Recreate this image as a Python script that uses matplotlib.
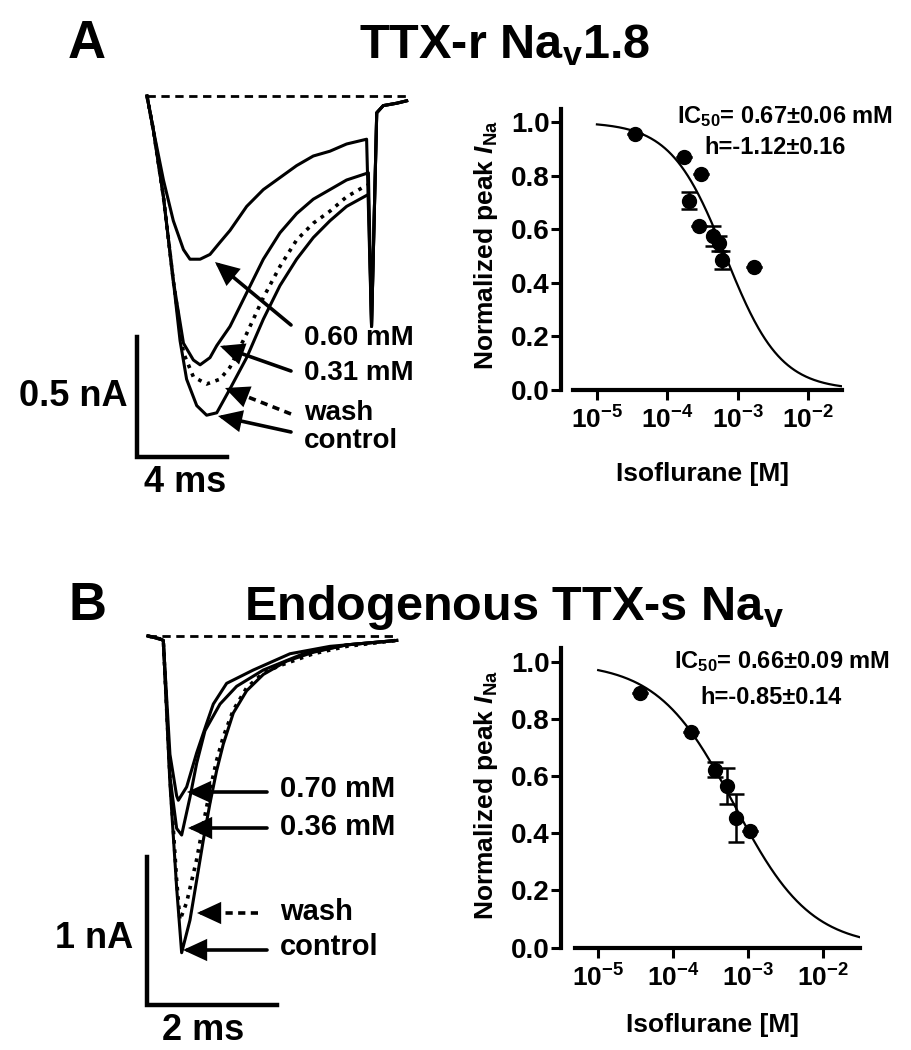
import numpy as np
import matplotlib
matplotlib.use('Agg')
import matplotlib.pyplot as plt
from matplotlib.lines import Line2D
from matplotlib.patches import FancyArrowPatch
from matplotlib.ticker import NullLocator

plt.rcParams['font.family'] = ['Liberation Sans', 'DejaVu Sans']
plt.rcParams['font.weight'] = 'bold'
plt.rcParams['mathtext.fontset'] = 'custom'
plt.rcParams['mathtext.rm'] = 'Liberation Sans:bold'
plt.rcParams['mathtext.bf'] = 'Liberation Sans:bold'
plt.rcParams['mathtext.it'] = 'Liberation Sans:bold:italic'
plt.rcParams['mathtext.default'] = 'rm'

# --- panel A: current traces (time in ms, current in nA) ---
a_ctrl_t = [0, 0.28, 0.73, 1.17, 1.47, 1.76, 2.21, 2.65, 3.10, 3.69, 4.43, 5.17, 5.91,
            6.65, 7.39, 8.13, 8.87, 9.84, 9.98, 10.21, 10.5, 11.1, 11.54]
a_ctrl_i = [0, -0.14, -0.42, -0.77, -1.02, -1.18, -1.29, -1.33, -1.32, -1.22, -1.09, -0.93, -0.79,
            -0.68, -0.59, -0.52, -0.46, -0.41, -0.96, -0.07, -0.04, -0.03, -0.02]
a_wash_t = [0, 0.28, 0.73, 1.17, 1.62, 2.06, 2.65, 3.24, 3.69, 4.43, 5.17, 5.91, 6.65,
            7.39, 8.13, 8.87, 9.61, 9.84]
a_wash_i = [0, -0.14, -0.42, -0.77, -1.07, -1.17, -1.20, -1.18, -1.13, -0.99, -0.84, -0.71, -0.60,
            -0.53, -0.48, -0.42, -0.38, -0.37]
a_031_t = [0, 0.28, 0.73, 1.17, 1.62, 2.06, 2.36, 2.80, 3.10, 3.69, 4.43, 5.17, 5.91,
           6.65, 7.39, 8.13, 8.87, 9.84, 9.98, 10.21, 10.5, 11.1, 11.54]
a_031_i = [0, -0.14, -0.42, -0.77, -1.03, -1.10, -1.12, -1.09, -1.04, -0.96, -0.82, -0.68, -0.57,
           -0.49, -0.43, -0.39, -0.35, -0.32, -0.96, -0.07, -0.04, -0.03, -0.02]
a_060_t = [0, 0.28, 0.73, 1.17, 1.62, 1.91, 2.36, 2.80, 3.24, 3.69, 4.43, 5.17, 5.91,
           6.65, 7.39, 8.13, 8.87, 9.76, 9.98, 10.21, 10.5, 11.1, 11.54]
a_060_i = [0, -0.14, -0.35, -0.52, -0.64, -0.68, -0.68, -0.66, -0.61, -0.56, -0.46, -0.39, -0.34,
           -0.29, -0.25, -0.23, -0.20, -0.18, -0.96, -0.07, -0.04, -0.03, -0.02]
a_end = 11.54

# --- panel B: current traces ---
b_ctrl_t = [0, 0.185, 0.236, 0.338, 0.441, 0.518, 0.646, 0.749, 0.851, 0.954, 1.056, 1.159,
            1.313, 1.518, 1.774, 2.133, 2.544, 3.056, 3.826]
b_ctrl_i = [0, -0.02, -0.03, -1.0, -1.7, -2.14, -1.92, -1.65, -1.38, -1.13, -0.91, -0.73,
            -0.52, -0.37, -0.26, -0.17, -0.11, -0.06, -0.03]
b_wash_t = [0, 0.185, 0.236, 0.338, 0.441, 0.492, 0.595, 0.749, 0.851, 0.954, 1.056, 1.159,
            1.313, 1.518, 1.774, 2.03, 2.544, 3.056, 3.826]
b_wash_i = [0, -0.02, -0.03, -0.95, -1.65, -1.92, -1.80, -1.51, -1.27, -1.04, -0.84, -0.68,
            -0.50, -0.35, -0.25, -0.20, -0.12, -0.07, -0.03]
b_036_t = [0, 0.185, 0.236, 0.338, 0.441, 0.518, 0.646, 0.749, 0.877, 1.108, 1.364, 1.774,
           2.39, 3.056, 3.826]
b_036_i = [0, -0.02, -0.03, -0.95, -1.30, -1.345, -1.09, -0.86, -0.64, -0.46, -0.34, -0.23,
           -0.12, -0.06, -0.03]
b_070_t = [0, 0.185, 0.236, 0.338, 0.441, 0.467, 0.595, 0.749, 0.903, 1.005, 1.21, 1.62,
           2.185, 2.8, 3.826]
b_070_i = [0, -0.02, -0.03, -0.80, -1.08, -1.11, -1.02, -0.79, -0.59, -0.46, -0.32, -0.23,
           -0.12, -0.07, -0.03]
b_end = 3.826

# --- dose-response data (concentration in M) ---
a_conc = [3.47e-5, 1.70e-4, 2.04e-4, 3.02e-4, 2.82e-4, 4.47e-4, 5.37e-4, 6.03e-4, 1.70e-3]
a_resp = [0.954, 0.871, 0.706, 0.806, 0.613, 0.575, 0.547, 0.485, 0.458]
a_err = [0, 0, 0.031, 0, 0, 0.036, 0.028, 0.035, 0]
a_ic50, a_hill = 0.67e-3, 1.12

b_conc = [3.63e-5, 1.76e-4, 3.63e-4, 5.25e-4, 7.0e-4, 1.07e-3]
b_resp = [0.891, 0.756, 0.623, 0.565, 0.454, 0.41]
b_err = [0, 0, 0.026, 0.063, 0.085, 0]
b_ic50, b_hill = 0.66e-3, 0.85

yticks = [0.0, 0.2, 0.4, 0.6, 0.8, 1.0]
ytick_labels = ['0.0', '0.2', '0.4', '0.6', '0.8', '1.0']
xticks = [1e-5, 1e-4, 1e-3, 1e-2]
xtick_labels = [r'$10^{-5}$', r'$10^{-4}$', r'$10^{-3}$', r'$10^{-2}$']

W, H = 911, 1050
fig = plt.figure(figsize=(W / 100, H / 100), dpi=100)


def px_axes(x0, y0, x1, y1):
    return fig.add_axes([x0 / W, 1 - y1 / H, (x1 - x0) / W, (y1 - y0) / H])


def pt(x, y):
    return (x / W, 1 - y / H)


def ftext(x, y, s, **kw):
    fig.text(x / W, 1 - y / H, s, **kw)


def arrow(x0, y0, x1, y1, dashed=False):
    if dashed:
        # dashed shaft, solid head for the last bit
        L = np.hypot(x1 - x0, y1 - y0)
        f = 1 - 16 / L
        xm, ym = x0 + (x1 - x0) * f, y0 + (y1 - y0) * f
        a, b = pt(x0, y0), pt(xm, ym)
        fig.add_artist(Line2D([a[0], b[0]], [a[1], b[1]], transform=fig.transFigure,
                              color='k', lw=2.6, ls=(0, (2, 1.5))))
        x0, y0 = xm, ym
    fig.add_artist(FancyArrowPatch(
        pt(x0, y0), pt(x1, y1), transform=fig.transFigure,
        arrowstyle='-|>,head_length=0.65,head_width=0.3', mutation_scale=20,
        lw=2.6, color='k', shrinkA=0, shrinkB=0, joinstyle='miter'))


# ---------------- traces A ----------------
ax = px_axes(100, 80, 460, 500)
ax.set_xlim(-2.089, 13.911)
ax.set_ylim(-1.6833, 0.0667)
ax.axis('off')
ax.plot([0, a_end], [0, 0], color='k', lw=2, ls=(0, (3, 2)))
ax.plot(a_wash_t, a_wash_i, color='k', lw=2.6, ls=(0, (1, 1.6)))
ax.plot(a_ctrl_t, a_ctrl_i, color='k', lw=2.2)
ax.plot(a_031_t, a_031_i, color='k', lw=2.2)
ax.plot(a_060_t, a_060_i, color='k', lw=2.2)
# scale bar: 4 ms, 0.5 nA
ax.plot([-0.444, -0.444, 3.556], [-1.004, -1.504, -1.504], color='k', lw=3.2,
        solid_joinstyle='miter')

ftext(128, 396, '0.5 nA', fontsize=26, ha='right', va='center')
ftext(185, 483, '4 ms', fontsize=26, ha='center', va='center')
for lab, yc in [('0.60 mM', 338), ('0.31 mM', 373), ('wash', 413), ('control', 441)]:
    ftext(304, yc, lab, fontsize=20, ha='left', va='center')
arrow(291, 325, 215, 262)
arrow(291, 371, 220, 346)
arrow(291, 414, 225, 388, dashed=True)
arrow(291, 432, 218, 416)

# ---------------- traces B ----------------
ax = px_axes(100, 620, 460, 1040)
ax.set_xlim(-0.738, 4.8)
ax.set_ylim(-2.7297, 0.108)
ax.axis('off')
ax.plot([0, b_end], [0, 0], color='k', lw=2, ls=(0, (3, 2)))
ax.plot(b_wash_t, b_wash_i, color='k', lw=2.6, ls=(0, (1, 1.6)))
ax.plot(b_ctrl_t, b_ctrl_i, color='k', lw=2.2)
ax.plot(b_036_t, b_036_i, color='k', lw=2.2)
ax.plot(b_070_t, b_070_i, color='k', lw=2.2)
# scale bar: 2 ms, 1 nA
ax.plot([-0.015, -0.015, 1.985], [-1.493, -2.493, -2.493], color='k', lw=3.2,
        solid_joinstyle='miter')

ftext(133, 939, '1 nA', fontsize=26, ha='right', va='center')
ftext(203, 1031, '2 ms', fontsize=26, ha='center', va='center')
for lab, yc in [('0.70 mM', 789), ('0.36 mM', 827), ('wash', 912), ('control', 947)]:
    ftext(280, yc, lab, fontsize=21, ha='left', va='center')
arrow(267, 792, 187, 792)
arrow(267, 828, 188, 828)
arrow(258, 913, 197, 913, dashed=True)
arrow(267, 950, 183, 950)


# ---------------- dose-response ----------------
def dose_panel(box, xlog, spine_px, conc, resp, err, ic50, hill):
    ax = px_axes(*box)
    ax.set_xscale('log')
    ax.set_xlim(10 ** xlog[0], 10 ** xlog[1])
    ax.set_ylim(0, 1.05)
    xs = np.logspace(-5, xlog[1], 300)
    ax.plot(xs, 1 / (1 + (xs / ic50) ** hill), color='k', lw=1.6, zorder=2)
    ax.errorbar(conc, resp, yerr=err, fmt='o', color='k', ms=10, elinewidth=1.8,
                capsize=6, capthick=1.8, zorder=3)
    for s in ['top', 'right']:
        ax.spines[s].set_visible(False)
    for s in ['left', 'bottom']:
        ax.spines[s].set_linewidth(3)
    ax.spines['left'].set_position(('outward', spine_px * 0.72))
    ax.set_yticks(yticks)
    ax.set_yticklabels(ytick_labels)
    ax.set_xticks(xticks)
    ax.set_xticklabels(xtick_labels)
    ax.xaxis.set_minor_locator(NullLocator())
    ax.tick_params(width=2.2, length=7, direction='out', pad=3)
    ax.tick_params(axis='y', labelsize=20, pad=1)
    ax.tick_params(axis='x', labelsize=19, pad=5)
    ax.set_facecolor('none')
    return ax


dose_panel((573, 108.6, 842, 390), (-5.34, -1.52), 12,
           a_conc, a_resp, a_err, a_ic50, a_hill)
dose_panel((575, 648, 860, 947.5), (-5.31, -1.50), 14,
           b_conc, b_resp, b_err, b_ic50, b_hill)

ylab = r'Normalized peak $\mathit{I}_{\mathrm{Na}}$'
ftext(486, 245, ylab, fontsize=19, rotation=90, ha='center', va='center')
ftext(486, 795, ylab, fontsize=19, rotation=90, ha='center', va='center')
ftext(702, 474, 'Isoflurane [M]', fontsize=19, ha='center', va='center')
ftext(712, 1025, 'Isoflurane [M]', fontsize=19, ha='center', va='center')

ftext(785, 123, r'IC$_{50}$= 0.67±0.06 mM', fontsize=17, ha='center', va='baseline')
ftext(775, 154, 'h=-1.12±0.16', fontsize=17, ha='center', va='baseline')
ftext(782, 668, r'IC$_{50}$= 0.66±0.09 mM', fontsize=17, ha='center', va='baseline')
ftext(771, 704, 'h=-0.85±0.14', fontsize=17, ha='center', va='baseline')

# ---------------- titles ----------------
ftext(87, 58, 'A', fontsize=38, ha='center', va='baseline')
ftext(505, 58, r'TTX-r Na$_{\mathrm{v}}$1.8', fontsize=35, ha='center', va='baseline')
ftext(87, 620, 'B', fontsize=38, ha='center', va='baseline')
ftext(514, 620, r'Endogenous TTX-s Na$_{\mathrm{v}}$', fontsize=35, ha='center', va='baseline')

fig.savefig('out.png', dpi=100)
